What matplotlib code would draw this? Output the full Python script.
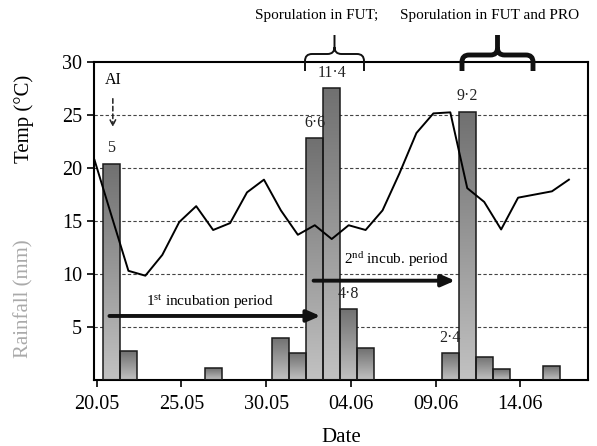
import numpy as np
import matplotlib
matplotlib.use("Agg")
import matplotlib.pyplot as plt
from matplotlib.path import Path
from matplotlib.patches import PathPatch, Rectangle

plt.rcParams['font.family'] = ['Liberation Serif', 'DejaVu Serif']
plt.rcParams['mathtext.fontset'] = 'custom'
plt.rcParams['mathtext.rm'] = 'Liberation Serif'

# days counted from 20.05 (= 0)
temp_days = list(range(-1, 28))
temp = [20.75, 15.5, 10.3, 9.84, 11.8, 14.9, 16.4, 14.15, 14.8, 17.7, 18.9,
        16.0, 13.7, 14.6, 13.3, 14.6, 14.15, 16.0, 19.5, 23.3, 25.15, 25.25,
        18.1, 16.8, 14.2, 17.2, 17.5, 17.8, 18.9]

rain_days = [0, 1, 6, 10, 11, 12, 13, 14, 15, 20, 21, 22, 23, 26]
rain_height = [20.4, 2.7, 1.1, 4.0, 2.5, 22.8, 27.5, 6.7, 3.0, 2.5, 25.3, 2.2, 1.0, 1.3]
rain_labels = {0: "5", 12: "6·6", 13: "11·4", 14: "4·8", 20: "2·4", 21: "9·2"}

tick_days = [0, 5, 10, 15, 20, 25]
tick_labels = ["20.05", "25.05", "30.05", "04.06", "09.06", "14.06"]

off = 0.87  # data points sit a little right of the date ticks

fig = plt.figure(figsize=(5.97, 4.46), dpi=100)
ax = fig.add_axes([0.1575, 0.148, 0.8275, 0.713])

# bars with vertical gradient
grad = np.linspace(0, 1, 256).reshape(-1, 1)
cmap = matplotlib.colors.LinearSegmentedColormap.from_list("g", ["#c2c2c2", "#707070"])
for d, h in zip(rain_days, rain_height):
    x0 = d + off - 0.5
    rect = Rectangle((x0, 0), 1.0, h, facecolor="none", edgecolor="#1a1a1a",
                     linewidth=1.1, zorder=3)
    ax.add_patch(rect)
    im = ax.imshow(grad, extent=[x0, x0 + 1.0, 0, h], origin="lower", cmap=cmap,
                   aspect="auto", zorder=2)
    im.set_clip_path(rect)

for d, lab in rain_labels.items():
    h = rain_height[rain_days.index(d)]
    ax.text(d + off, h + 0.7, lab, ha="center", va="bottom", fontsize=11.5, color="#222222")

ax.plot(np.array(temp_days) + off, temp, color="black", linewidth=1.4, zorder=4)

for y in [5, 10, 15, 20, 25]:
    ax.axhline(y, color="#444444", linewidth=0.8, linestyle=(0, (3, 2)), zorder=1)

ax.set_xlim(-0.16, 29.0)
ax.set_ylim(0, 30)
ax.set_xticks(tick_days)
ax.set_xticklabels(tick_labels)
ax.set_yticks([5, 10, 15, 20, 25, 30])
ax.tick_params(axis="both", direction="out", labelsize=14.5, width=1.2, length=5)
ax.tick_params(axis="x", pad=6)
for s in ax.spines.values():
    s.set_linewidth(1.5)

ax.set_xlabel("Date", fontsize=15, labelpad=10)

# annotations
ax.text(0.95, 28.3, "AI", ha="center", va="center", fontsize=11.5)
ax.annotate("", xy=(0.95, 23.6), xytext=(0.95, 26.8),
            arrowprops=dict(arrowstyle="->", linestyle=(0, (3, 2)), color="#222222", lw=1.1))

ax.annotate("", xy=(13.2, 6.04), xytext=(0.75, 6.04),
            arrowprops=dict(arrowstyle="-|>,head_length=0.8,head_width=0.35",
                            color="#111111", lw=2.8, shrinkA=0, shrinkB=0))
ax.text(6.7, 7.4, r"$\mathrm{1^{st}}$ incubation period", ha="center", va="center", fontsize=11)

ax.annotate("", xy=(21.15, 9.37), xytext=(12.8, 9.37),
            arrowprops=dict(arrowstyle="-|>,head_length=0.8,head_width=0.35",
                            color="#111111", lw=2.8, shrinkA=0, shrinkB=0))
ax.text(17.7, 11.4, r"$\mathrm{2^{nd}}$ incub. period", ha="center", va="center", fontsize=11)

# y labels
fig.text(24 / 597, 1 - 119 / 446, "Temp (°C)", rotation=90, ha="center", va="center",
         fontsize=15)
fig.text(24 / 597, 1 - 299 / 446, "Rainfall (mm)", rotation=90, ha="center", va="center",
         fontsize=15, color="#aaaaaa")

# top texts
fig.text(255 / 597, 1 - 15 / 446, "Sporulation in FUT;", ha="left", va="center", fontsize=11)
fig.text(400 / 597, 1 - 15 / 446, "Sporulation in FUT and PRO", ha="left", va="center",
         fontsize=11)


def brace(x0, x1, ytip, ymid, ypeak, lw):
    W, H = 597.0, 446.0
    xc = (x0 + x1) / 2
    r = 7
    pts = [(x0, ytip), (x0, ymid + r), (x0, ymid), (x0 + r, ymid),
           (xc - r, ymid), (xc, ymid), (xc, ymid - r), (xc, ypeak),
           (xc, ymid - r), (xc, ymid), (xc + r, ymid),
           (x1 - r, ymid), (x1, ymid), (x1, ymid + r), (x1, ytip)]
    codes = [Path.MOVETO, Path.LINETO, Path.CURVE3, Path.CURVE3,
             Path.LINETO, Path.CURVE3, Path.CURVE3, Path.LINETO,
             Path.MOVETO, Path.CURVE3, Path.CURVE3,
             Path.LINETO, Path.CURVE3, Path.CURVE3, Path.LINETO]
    verts = [(x / W, 1 - y / H) for x, y in pts]
    p = PathPatch(Path(verts, codes), transform=fig.transFigure, facecolor="none",
                  edgecolor="#111111", linewidth=lw, capstyle="butt", joinstyle="round")
    fig.add_artist(p)


brace(305, 364, 71, 54, 35, 1.4)
brace(462, 533, 71, 55, 35, 3.5)

fig.savefig("out.png", dpi=100)
